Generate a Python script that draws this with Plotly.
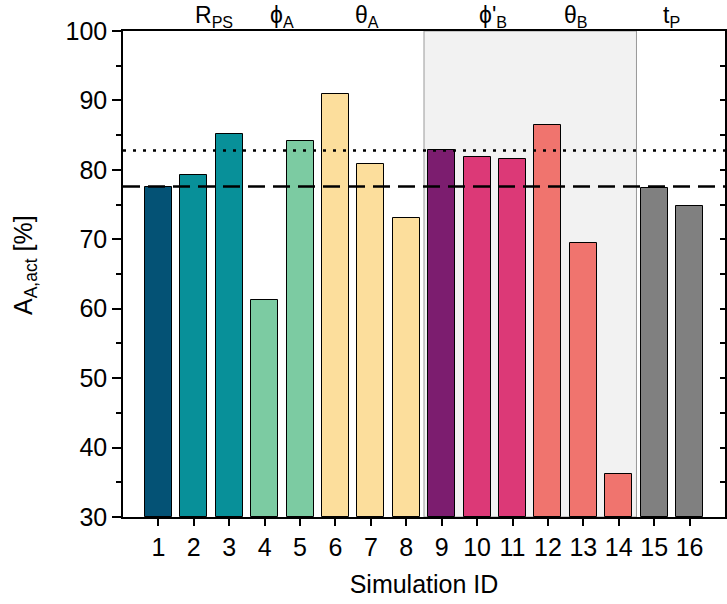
import plotly.graph_objects as go

sim_ids = list(range(1, 17))
values = [77.6, 79.3, 85.1, 61.2, 84.2, 90.9, 80.9, 73.1,
          82.8, 81.8, 81.6, 86.5, 69.5, 36.2, 77.4, 74.8]
colors = ["#045275", "#089099", "#089099", "#7CCBA2", "#7CCBA2",
          "#FCDE9C", "#FCDE9C", "#FCDE9C", "#7C1D6F", "#DC3977",
          "#DC3977", "#F0746E", "#F0746E", "#F0746E", "#808080", "#808080"]
ref_dashed = 77.6
ref_dotted = 82.8
group_labels = ["R<sub>PS</sub>", "ϕ<sub>A</sub>", "θ<sub>A</sub>",
                "ϕ'<sub>B</sub>", "θ<sub>B</sub>", "t<sub>P</sub>"]
group_pos = [2.58, 4.5, 6.9, 10.45, 12.8, 15.5]
shade_range = [8.5, 14.5]
x_range = [0, 17]
y_range = [30, 100]

FONT = "Liberation Sans, Arial, sans-serif"
FS = 25
FS_GROUP = 23

fig = go.Figure()
fig.add_trace(go.Bar(x=sim_ids, y=[v - y_range[0] for v in values], base=y_range[0],
                     width=0.76, marker=dict(color=colors, line=dict(color="black", width=1)),
                     showlegend=False))
fig.add_trace(go.Scatter(x=x_range, y=[ref_dashed, ref_dashed], mode="lines",
                         line=dict(color="black", width=2.5, dash="17px,8px"), showlegend=False))
fig.add_trace(go.Scatter(x=x_range, y=[ref_dotted, ref_dotted], mode="lines",
                         line=dict(color="black", width=2.5, dash="3px,7px"), showlegend=False))
fig.add_trace(go.Scatter(x=[x_range[0]], y=[y_range[0]], yaxis="y2", mode="markers",
                         marker=dict(opacity=0), showlegend=False, hoverinfo="skip"))

fig.add_shape(type="rect", xref="x", yref="y", x0=shade_range[0], x1=shade_range[1],
              y0=y_range[0], y1=y_range[1], fillcolor="#f2f2f2",
              line=dict(color="#999999", width=1), layer="below")

for lab, pos in zip(group_labels, group_pos):
    fig.add_annotation(x=pos, y=1, xref="x", yref="paper", text=lab, showarrow=False,
                       yanchor="bottom", yshift=-1, borderpad=0,
                       font=dict(size=FS_GROUP, color="black", family=FONT))

fig.add_annotation(x=0, y=0.5, xref="paper", yref="paper", text="A<sub>A,act</sub> [%]",
                   textangle=-90, showarrow=False, xanchor="center", yanchor="middle",
                   xshift=-98, yshift=9, font=dict(size=FS, color="black", family=FONT))

fig.update_layout(
    width=727, height=604,
    margin=dict(l=123, r=2, t=31, b=87, autoexpand=False),
    paper_bgcolor="white", plot_bgcolor="white",
    font=dict(family=FONT, size=FS, color="black"),
    bargap=0,
    xaxis=dict(range=x_range, tickmode="array", tickvals=sim_ids, automargin=False,
               ticks="outside", ticklen=7, tickwidth=1.5, tickcolor="black",
               showline=True, linecolor="black", linewidth=1.5, mirror=True,
               showgrid=False, zeroline=False,
               title=dict(text="Simulation ID", standoff=16, font=dict(size=FS)),
               tickfont=dict(size=FS)),
    yaxis=dict(range=y_range, dtick=10, ticks="outside", ticklen=9, tickwidth=1.5,
               automargin=False,
               tickcolor="black", showline=True, linecolor="black", linewidth=1.5,
               mirror=True, showgrid=False, zeroline=False, tickfont=dict(size=FS),
               minor=dict(dtick=5, ticks="outside", ticklen=5, tickwidth=1.5, tickcolor="black")),
    yaxis2=dict(range=y_range, overlaying="y", side="right", dtick=5, ticks="inside",
                automargin=False,
                ticklen=5, tickwidth=1.5, tickcolor="black", showticklabels=False,
                showgrid=False, zeroline=False, showline=False),
)

fig.write_html("out.html", config={"displayModeBar": False},
               post_script="document.body.style.margin='0px';document.body.style.overflow='hidden';")
